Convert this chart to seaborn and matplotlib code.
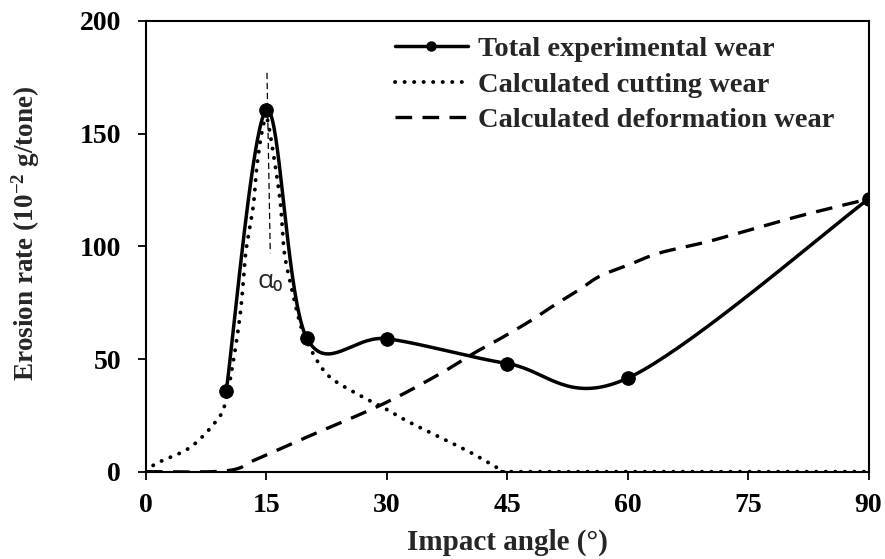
import numpy as np
import pandas as pd
import matplotlib
matplotlib.use("Agg")
import matplotlib.pyplot as plt
from matplotlib.lines import Line2D
import seaborn as sns

# ---- data ----
exp_angle = [10, 15, 20, 30, 45, 60, 90]
exp_wear = [36, 160.5, 59.5, 59, 48, 41.5, 121]

cut_angle = [0, 1.3, 5.5, 8.8, 9.9, 10.9, 11.7, 12.1, 12.45, 13.35, 13.8, 14.4,
             15, 15.6, 16.7, 17.2, 18.1, 19.1, 20, 22.5, 26.2, 29.5, 32.4,
             36.6, 40.7, 44.5, 45, 60, 75, 90]
cut_wear = [0, 3.7, 10.8, 22.7, 30.8, 49.6, 68.9, 83.4, 98, 117.5, 135, 150,
            157, 147, 120.5, 98, 82, 67, 58, 43.4, 34.7, 28.6, 22.7,
            15.3, 8, 0.2, 0, 0, 0, 0]

def_angle = [0, 10, 13.8, 20, 29.5, 36.6, 40.7, 44.6, 48.1, 50.6, 54, 56.5,
             60.2, 64, 70.1, 80.5, 88, 90]
def_wear = [0, 0.4, 5.6, 15.3, 30, 43.4, 52.3, 60, 67.4, 73.3, 80.8, 86.7,
            91.9, 97.1, 102.2, 112.6, 119.3, 121]

x_ticks = [0, 15, 30, 45, 60, 75, 90]
y_ticks = [0, 50, 100, 150, 200]
labels = ["Total experimental wear", "Calculated cutting wear",
          "Calculated deformation wear"]

sns.set_theme(style="ticks")
plt.rcParams["font.family"] = ["Liberation Serif", "DejaVu Serif"]
plt.rcParams["font.weight"] = "bold"
plt.rcParams["mathtext.fontset"] = "custom"
plt.rcParams["mathtext.rm"] = "Liberation Serif:bold"
plt.rcParams["mathtext.bf"] = "Liberation Serif:bold"
plt.rcParams["mathtext.it"] = "Liberation Serif:bold"

W, H = 885, 559
fig = plt.figure(figsize=(W / 100, H / 100), dpi=100)
ax = fig.add_axes([146 / W, 1 - 471.7 / H, (868.5 - 146) / W, (471.7 - 21) / H])
ax.set_xlim(0, 90)
ax.set_ylim(0, 200)


def smooth(xs, ys, n=40):
    """Excel-like Catmull-Rom smoothing, done in display space."""
    pts = ax.transData.transform(np.column_stack([xs, ys]))
    P = np.vstack([pts[0], pts, pts[-1]])
    out = []
    t = np.linspace(0, 1, n)[:, None]
    for i in range(1, len(P) - 2):
        p0, p1, p2, p3 = P[i - 1], P[i], P[i + 1], P[i + 2]
        c1 = p1 + (p2 - p0) / 6
        c2 = p2 - (p3 - p1) / 6
        seg = ((1 - t) ** 3) * p1 + 3 * ((1 - t) ** 2) * t * c1 + \
            3 * (1 - t) * t ** 2 * c2 + t ** 3 * p2
        out.append(seg if i == 1 else seg[1:])
    out = np.vstack(out)
    d = ax.transData.inverted().transform(out)
    return d[:, 0], d[:, 1]


sx, sy = smooth(exp_angle, exp_wear)
cx, cy = smooth(cut_angle, cut_wear, n=12)
dx, dy = smooth(def_angle, def_wear, n=12)

sns.lineplot(x=cx, y=cy, sort=False, estimator=None, ax=ax, color="black",
             lw=2.8, dash_capstyle="round", linestyle=(0, (0.05, 2.4)))
sns.lineplot(x=dx, y=dy, sort=False, estimator=None, ax=ax, color="black",
             lw=2.4, linestyle=(0, (5.0, 3.1)))
sns.lineplot(x=sx, y=sy, sort=False, estimator=None, ax=ax, color="black",
             lw=2.5)
sns.scatterplot(x=exp_angle, y=exp_wear, ax=ax, color="black", s=95,
                edgecolor="black", zorder=5)

# alpha_0 marker line and label
ax.plot([15.07, 15.48], [177, 97], color="black", lw=0.9,
        linestyle=(0, (5, 3)))
ax.text(15.45, 84.5, "α₀", family=["Open Sans", "DejaVu Sans"],
        fontweight="normal", fontsize=19, ha="center", va="center")

ax.set_xticks(x_ticks)
ax.set_yticks(y_ticks)
ax.tick_params(direction="out", length=6, width=1.3, labelsize=20, pad=9,
               colors="black")
ax.tick_params(axis="y", pad=12)
for lab in ax.get_xticklabels() + ax.get_yticklabels():
    lab.set_fontweight("bold")
for s in ax.spines.values():
    s.set_visible(True)
    s.set_color("black")
    s.set_linewidth(1.5)

ax.set_xlabel("Impact angle (°)", fontsize=21, fontweight="bold", labelpad=8)
ax.set_ylabel(r"Erosion rate (10$^{\mathbf{-2}}$ g/tone)", fontsize=19.5,
              fontweight="bold")
ax.yaxis.set_label_coords((42 - 146) / 722.5, (471.7 - 233) / 450.7)

handles = [
    Line2D([], [], color="black", lw=2.5, marker="o", markersize=6.5),
    Line2D([], [], color="black", lw=2.8, dash_capstyle="round",
           linestyle=(0, (0.05, 2.4))),
    Line2D([], [], color="black", lw=2.4, linestyle=(0, (5.0, 3.1))),
]
leg = fig.legend(handles, labels, loc="upper left",
                 bbox_to_anchor=(395 / W, 1 - 36 / H), frameon=False,
                 prop={"family": "Liberation Serif", "weight": "bold",
                       "size": 20.5},
                 handlelength=2.55, handletextpad=0.35, labelspacing=0.34,
                 borderpad=0, borderaxespad=0, markerfirst=True)

fig.savefig("out.png", dpi=100)
